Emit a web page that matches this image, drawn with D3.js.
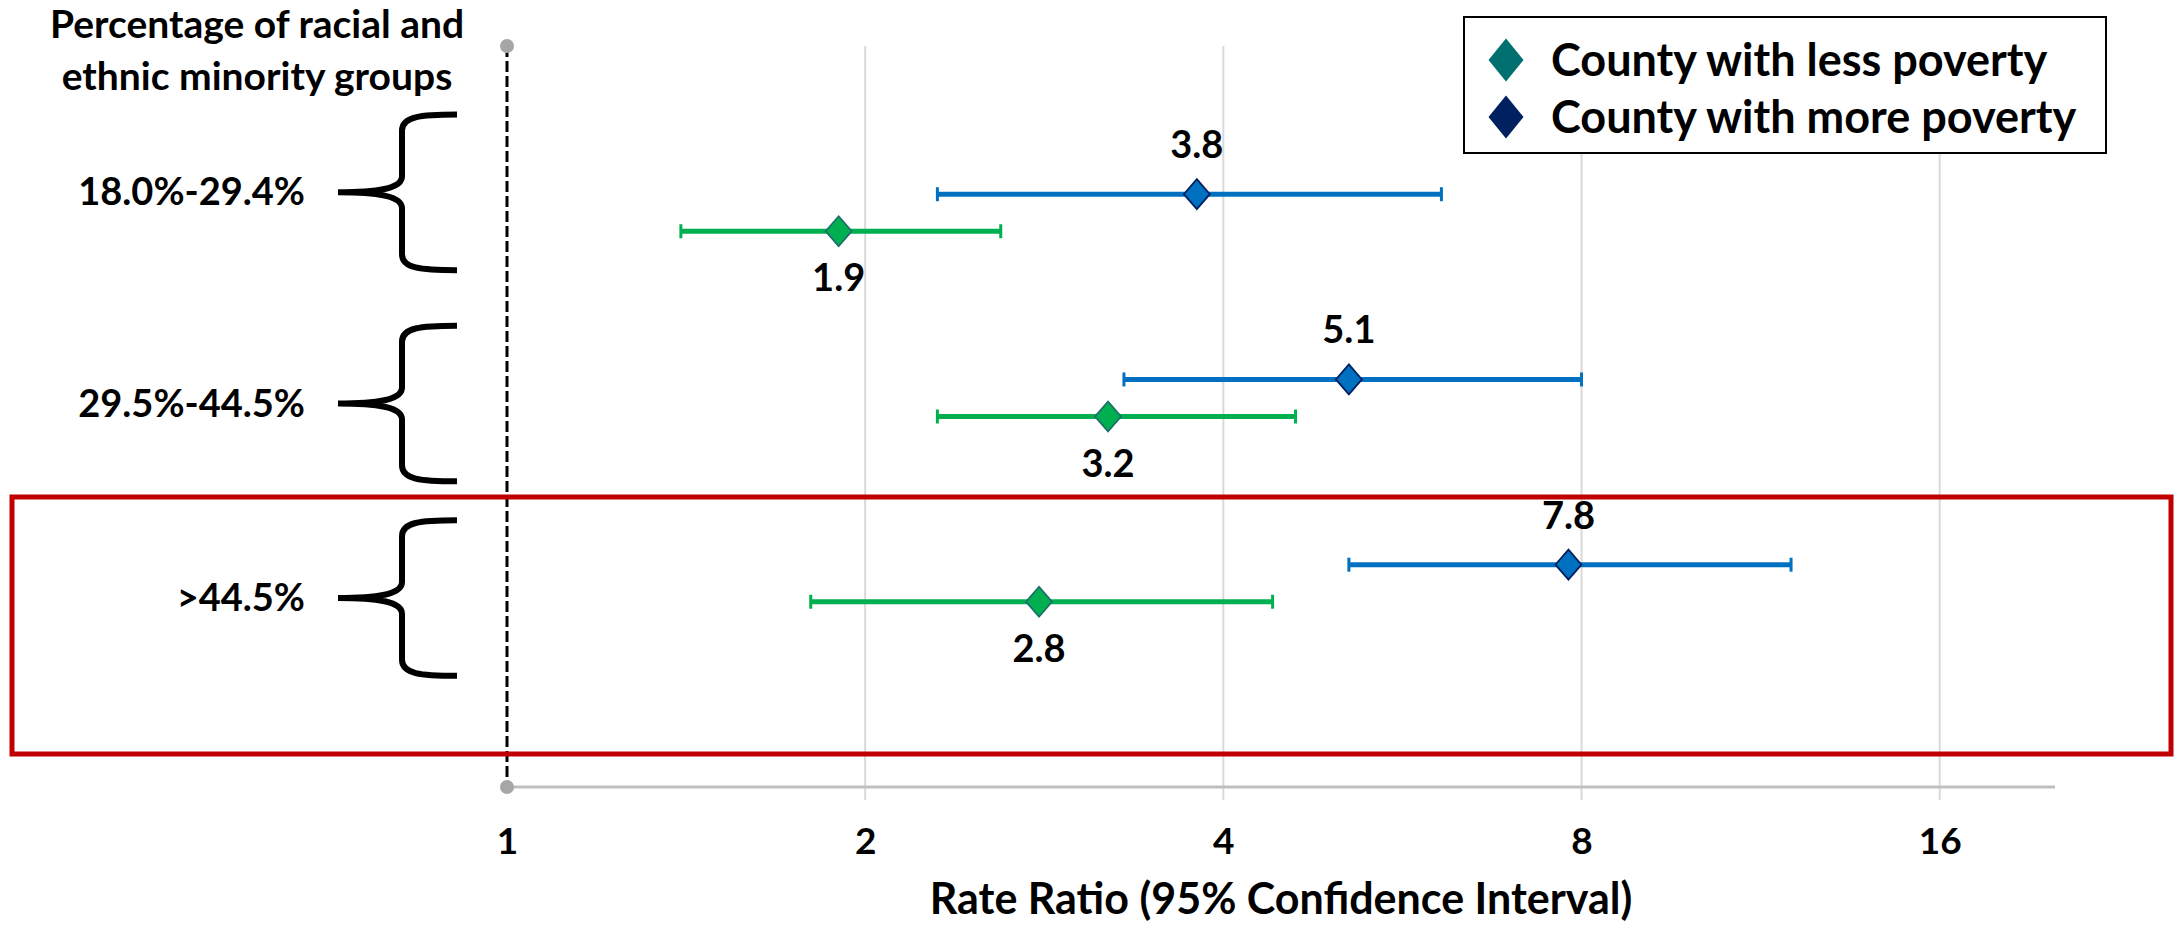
<!DOCTYPE html>
<html>
<head>
<meta charset="utf-8">
<script src="https://cdn.jsdelivr.net/npm/d3@7"></script>
<style>
  html, body { margin: 0; padding: 0; background: #fff; }
  svg { display: block; }
  text { font-family: Lato, "Liberation Sans", sans-serif; font-weight: bold; fill: #000; }
</style>
</head>
<body>
<svg id="chart" width="2179" height="927"></svg>
<script>
// Groups: share of racial and ethnic minority residents
const groups = ["18.0%-29.4%", "29.5%-44.5%", ">44.5%"];

// County with less poverty: rate ratio and 95% CI
const lessRR = [1.9, 3.2, 2.8];
const lessLo = [1.40, 2.30, 1.80];
const lessHi = [2.60, 4.60, 4.40];

// County with more poverty: rate ratio and 95% CI
const moreRR = [3.8, 5.1, 7.8];
const moreLo = [2.30, 3.30, 5.10];
const moreHi = [6.10, 8.00, 12.0];

// Axis ticks
const xTicks = [1, 2, 4, 8, 16];

const seriesNames = ["County with less poverty", "County with more poverty"];

const svg = d3.select("#chart");

const x = d3.scaleLog().base(2).domain([1, 20]).range([507, 2055]);
const y = d3.scaleLinear().domain([0, 4]).range([46, 787]);
const axisY = y(4);

// Build row records from the arrays
const rows = [];
groups.forEach((g, i) => {
  rows.push({ series: 0, group: i, pos: i + 1, rr: lessRR[i], lo: lessLo[i], hi: lessHi[i] });
  rows.push({ series: 1, group: i, pos: i + 1 - 0.2, rr: moreRR[i], lo: moreLo[i], hi: moreHi[i] });
});

const lineColor = ["#00b050", "#0070c0"];
const markerFill = ["#00b050", "#0070c0"];
const markerStroke = ["#1b6e6b", "#002060"];
const legendFill = ["#006f70", "#002060"];

// Vertical gridlines (extend slightly below the axis as tick marks)
svg.append("g")
  .selectAll("line")
  .data(xTicks.slice(1))
  .join("line")
  .attr("x1", d => x(d)).attr("x2", d => x(d))
  .attr("y1", y(0)).attr("y2", axisY + 13)
  .attr("stroke", "#d9d9d9").attr("stroke-width", 2);

// Horizontal axis line
svg.append("line")
  .attr("x1", x(1)).attr("x2", x(20))
  .attr("y1", axisY).attr("y2", axisY)
  .attr("stroke", "#bfbfbf").attr("stroke-width", 3);

// Tick labels via d3 axis
const xAxis = d3.axisBottom(x).tickValues(xTicks).tickFormat(d3.format("d")).tickSize(0).tickPadding(0);
const gAxis = svg.append("g").attr("transform", `translate(0,${axisY})`).call(xAxis);
gAxis.select(".domain").remove();
gAxis.selectAll("text")
  .attr("dy", null)
  .attr("y", 67)
  .style("font-size", "37px")
  .style("font-family", "Lato, 'Liberation Sans', sans-serif")
  .style("font-weight", "bold")
  .attr("fill", "#000");

// Reference line at rate ratio = 1
svg.append("line")
  .attr("x1", x(1)).attr("x2", x(1))
  .attr("y1", y(0)).attr("y2", axisY)
  .attr("stroke", "#000").attr("stroke-width", 3)
  .attr("stroke-dasharray", "11,4");
svg.selectAll("circle.endpt")
  .data([y(0), axisY])
  .join("circle")
  .attr("class", "endpt")
  .attr("cx", x(1)).attr("cy", d => d).attr("r", 7)
  .attr("fill", "#a6a6a6");

// Highlight box around the highest-share group
svg.append("rect")
  .attr("x", 12).attr("y", 497)
  .attr("width", 2159).attr("height", 257)
  .attr("fill", "none")
  .attr("stroke", "#c00000").attr("stroke-width", 5);

// Error bars
const bars = svg.append("g").selectAll("g").data(rows).join("g");
bars.append("line")
  .attr("x1", d => x(d.lo)).attr("x2", d => x(d.hi))
  .attr("y1", d => y(d.pos)).attr("y2", d => y(d.pos))
  .attr("stroke", d => lineColor[d.series]).attr("stroke-width", 5);
bars.selectAll("line.cap")
  .data(d => [{ v: d.lo, d }, { v: d.hi, d }])
  .join("line")
  .attr("class", "cap")
  .attr("x1", c => x(c.v)).attr("x2", c => x(c.v))
  .attr("y1", c => y(c.d.pos) - 7).attr("y2", c => y(c.d.pos) + 7)
  .attr("stroke", c => lineColor[c.d.series]).attr("stroke-width", 3);

// Diamond markers
const diamond = (w, h) => `M0,${-h / 2}L${w / 2},0L0,${h / 2}L${-w / 2},0Z`;
bars.append("path")
  .attr("d", diamond(26, 30))
  .attr("transform", d => `translate(${x(d.rr)},${y(d.pos)})`)
  .attr("fill", d => markerFill[d.series])
  .attr("stroke", d => markerStroke[d.series]).attr("stroke-width", 1.8);

// Value labels: above for more poverty, below for less poverty
bars.append("text")
  .attr("x", d => x(d.rr))
  .attr("y", d => d.series === 1 ? y(d.pos) - 36 : y(d.pos) + 60)
  .attr("text-anchor", "middle")
  .style("font-size", "38px")
  .text(d => d.rr.toFixed(1));

// Group braces and labels
const braceMid = [0.79, 1.93, 2.98];
const braceHalf = 0.42;
function bracePath(m) {
  const t = y(m - braceHalf), c = y(m), b = y(m + braceHalf);
  const tip = 457, stem = 402, point = 338;
  return `M${tip},${t} C${420},${t} ${stem},${t + 2} ${stem},${t + 16}` +
    ` L${stem},${c - 16} C${stem},${c - 4} ${380},${c} ${point},${c}` +
    ` C${380},${c} ${stem},${c + 4} ${stem},${c + 16}` +
    ` L${stem},${b - 16} C${stem},${b - 2} ${420},${b} ${tip},${b}`;
}
svg.append("g").selectAll("path")
  .data(braceMid)
  .join("path")
  .attr("d", d => bracePath(d))
  .attr("fill", "none").attr("stroke", "#000").attr("stroke-width", 6);
svg.append("g").selectAll("text")
  .data(groups)
  .join("text")
  .attr("x", 305)
  .attr("y", (g, i) => y(braceMid[i]) + 13)
  .attr("text-anchor", "end")
  .style("font-size", "38px")
  .text(g => g);

// Header above the group labels
svg.append("text")
  .attr("x", 257).attr("y", 38)
  .attr("text-anchor", "middle")
  .style("font-size", "39px")
  .selectAll("tspan")
  .data(["Percentage of racial and", "ethnic minority groups"])
  .join("tspan")
  .attr("x", 257)
  .attr("dy", (d, i) => i === 0 ? 0 : 52)
  .text(d => d);

// Axis title
svg.append("text")
  .attr("x", (x(1) + x(20)) / 2).attr("y", 914)
  .attr("text-anchor", "middle")
  .style("font-size", "43px")
  .text("Rate Ratio (95% Confidence Interval)");

// Legend
const legend = svg.append("g");
legend.append("rect")
  .attr("x", 1464).attr("y", 17).attr("width", 642).attr("height", 136)
  .attr("fill", "#fff").attr("stroke", "#000").attr("stroke-width", 2);
const items = legend.selectAll("g.item").data(seriesNames).join("g")
  .attr("class", "item")
  .attr("transform", (d, i) => `translate(1506,${60 + i * 57})`);
items.append("path")
  .attr("d", diamond(35, 43))
  .attr("fill", (d, i) => legendFill[i]);
items.append("text")
  .attr("x", 45).attr("y", 16)
  .style("font-size", "45px")
  .text(d => d);
</script>
</body>
</html>
